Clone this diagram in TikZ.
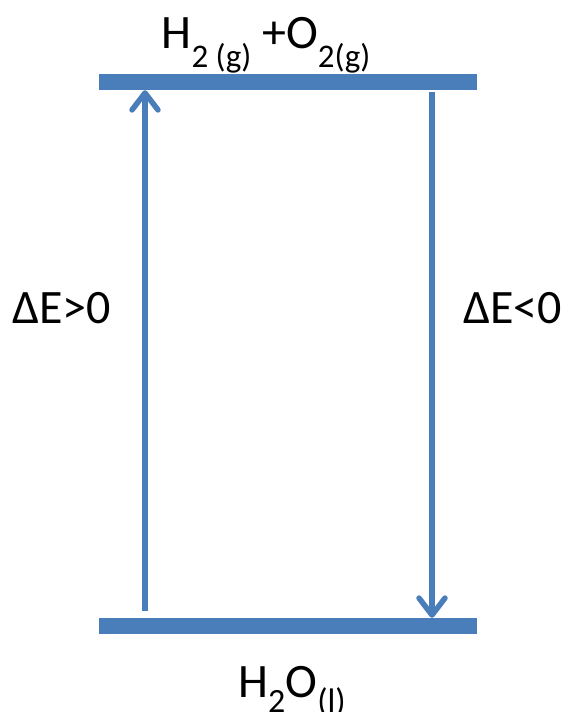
\documentclass[tikz,border=0pt]{standalone}
\usepackage{fontspec}
\setmainfont{Carlito}
\usetikzlibrary{arrows.meta}
\definecolor{barblue}{HTML}{4A7EBB}
\newcommand\subtop[1]{\raisebox{-19pt}{\fontsize{33}{33}\selectfont #1}}
\newcommand\subbot[1]{\raisebox{-15pt}{\fontsize{34}{34}\selectfont #1}}
\begin{document}
\begin{tikzpicture}[x=1pt,y=-1pt,
  bar/.style={fill=barblue, draw=none, minimum width=378pt, minimum height=16pt, inner sep=0pt},
  arr/.style={draw=barblue, line width=5.5pt, -{Straight Barb[length=17pt,width=26pt,round]}},
  lab/.style={inner sep=0pt, font=\fontsize{48}{56}\selectfont}]
\useasboundingbox (0,0) rectangle (568,712);
\node[bar] (top) at (288,82) {};
\node[bar] (bot) at (288,626) {};
\coordinate (ls) at (145,611);
\coordinate (rs) at (432,92);
\draw[arr] (ls) -- (ls |- top.south);
\draw[arr] (rs) -- (rs |- bot.north);
\node[lab, anchor=base] (tt) at (266,48) {H\subtop{2 (g)} +O\subtop{2(g)}};
\node[lab, anchor=base] (bt) at (292,697) {H\subbot{2}O\subbot{(l)}};
\node[lab, anchor=base west] (dl) at (12,323) {ΔE>0};
\node[lab, anchor=base east] (dr) at (562,323) {ΔE<0};
\end{tikzpicture}
\end{document}
